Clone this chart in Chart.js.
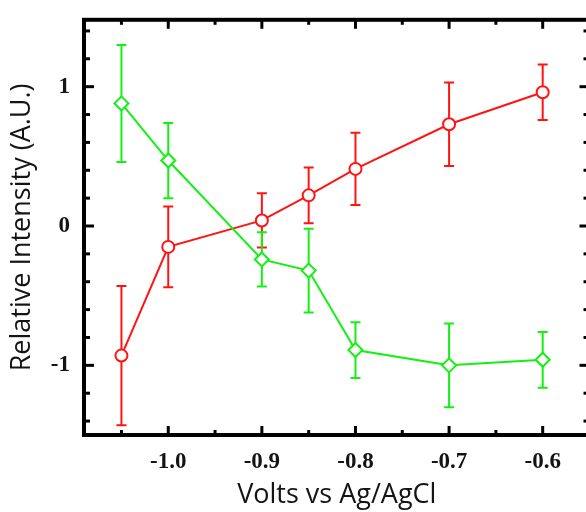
<!DOCTYPE html>
<html>
<head>
<meta charset="utf-8">
<script src="https://cdn.jsdelivr.net/npm/chart.js@4.4.1/dist/chart.umd.min.js"></script>
<style>
  html, body { margin: 0; padding: 0; background: #fff; overflow: hidden; }
  #wrap { width: 586px; height: 512px; overflow: hidden; }
</style>
</head>
<body>
<div id="wrap"><canvas id="chart" width="600" height="512"></canvas></div>
<script>
// data
const volts = [-1.05, -1.0, -0.9, -0.85, -0.8, -0.7, -0.6];
const redValues = [-0.93, -0.15, 0.04, 0.22, 0.41, 0.73, 0.96];
const redErrors = [0.50, 0.29, 0.195, 0.20, 0.26, 0.30, 0.20];
const greenValues = [0.88, 0.47, -0.24, -0.32, -0.89, -1.0, -0.96];
const greenErrors = [0.42, 0.27, 0.195, 0.30, 0.20, 0.30, 0.20];

// axes
const xLabels = [-1.0, -0.9, -0.8, -0.7, -0.6];
const xMinor = [-1.05, -0.95, -0.85, -0.75, -0.65];
const yLabels = [-1, 0, 1];
const yMinor = [-1.4, -1.2, -0.8, -0.6, -0.4, -0.2, 0.2, 0.4, 0.6, 0.8, 1.2, 1.4];
const xRange = [-1.09, -0.55];
const yRange = [-1.5, 1.48];

const RED = 'rgb(255, 20, 20)';
const GREEN = 'rgb(20, 240, 20)';
const TEXT = '#141414';

function toPoints(vals) {
    return volts.map((v, i) => ({ x: v, y: vals[i] }));
}

// vertical error bars with caps, drawn under the markers
const errorBars = {
    id: 'errorBars',
    beforeDatasetsDraw(chart) {
        const { ctx, scales: { x, y } } = chart;
        ctx.save();
        ctx.lineWidth = 2;
        chart.data.datasets.slice().reverse().forEach(ds => {
            ctx.strokeStyle = ds.borderColor;
            ds.data.forEach((p, i) => {
                const e = ds.errors[i];
                const px = x.getPixelForValue(p.x);
                const top = y.getPixelForValue(p.y + e);
                const bot = y.getPixelForValue(p.y - e);
                ctx.beginPath();
                ctx.moveTo(px, top); ctx.lineTo(px, bot);
                ctx.moveTo(px - 5, top); ctx.lineTo(px + 5, top);
                ctx.moveTo(px - 5, bot); ctx.lineTo(px + 5, bot);
                ctx.stroke();
            });
        });
        ctx.restore();
    }
};

// thick box with inward ticks on all four sides
const frame = {
    id: 'frame',
    afterDraw(chart) {
        const { ctx, chartArea: a, scales: { x, y } } = chart;
        ctx.save();
        ctx.strokeStyle = '#000';
        ctx.lineWidth = 3;
        const tick = (x0, y0, x1, y1) => { ctx.beginPath(); ctx.moveTo(x0, y0); ctx.lineTo(x1, y1); ctx.stroke(); };
        xLabels.concat(xMinor).forEach(v => {
            const len = xLabels.includes(v) ? 9 : 5;
            const px = x.getPixelForValue(v);
            tick(px, a.bottom, px, a.bottom - len);
            tick(px, a.top, px, a.top + len);
        });
        yLabels.concat(yMinor).forEach(v => {
            const len = yLabels.includes(v) ? 10 : 6;
            const py = y.getPixelForValue(v);
            tick(a.left, py, a.left + len, py);
            tick(a.right, py, a.right - len, py);
        });
        ctx.lineWidth = 4;
        ctx.lineJoin = 'miter';
        ctx.strokeRect(a.left, a.top, a.right - a.left, a.bottom - a.top);
        ctx.restore();
    }
};

const tickFont = { family: "'Liberation Serif', serif", size: 23, weight: 'bold' };
const titleFont = { family: "'Open Sans', sans-serif", size: 27 };

new Chart(document.getElementById('chart'), {
    type: 'line',
    data: {
        datasets: [
            {
                label: 'green',
                data: toPoints(greenValues),
                errors: greenErrors,
                borderColor: GREEN,
                backgroundColor: '#fff',
                borderWidth: 2,
                pointStyle: 'rectRot',
                pointRadius: 7,
                pointBorderWidth: 2,
                pointBackgroundColor: '#fff',
                order: 0
            },
            {
                label: 'red',
                data: toPoints(redValues),
                errors: redErrors,
                borderColor: RED,
                backgroundColor: '#fff',
                borderWidth: 2,
                pointStyle: 'circle',
                pointRadius: 6,
                pointBorderWidth: 2,
                pointBackgroundColor: '#fff',
                order: 1
            }
        ]
    },
    options: {
        responsive: false,
        animation: false,
        layout: { padding: { top: 13, right: 10.5, left: 0, bottom: 0 } },
        plugins: { legend: { display: false }, tooltip: { enabled: false } },
        scales: {
            x: {
                type: 'linear',
                min: xRange[0],
                max: xRange[1],
                afterBuildTicks: s => { s.ticks = xLabels.map(v => ({ value: v })); },
                afterFit: s => { s.height = 77; },
                grid: { display: false },
                border: { display: false },
                ticks: {
                    callback: v => v.toFixed(1),
                    font: tickFont,
                    color: TEXT,
                    padding: 5,
                    maxRotation: 0,
                    autoSkip: false
                },
                title: {
                    display: true,
                    text: 'Volts vs Ag/AgCl',
                    font: titleFont,
                    color: TEXT,
                    padding: { top: 0, bottom: 0 }
                }
            },
            y: {
                type: 'linear',
                min: yRange[0],
                max: yRange[1],
                afterBuildTicks: s => { s.ticks = yLabels.map(v => ({ value: v })); },
                afterFit: s => { s.width = 84; },
                grid: { display: false },
                border: { display: false },
                ticks: {
                    callback: v => String(v),
                    font: tickFont,
                    color: TEXT,
                    padding: 6
                },
                title: {
                    display: true,
                    text: 'Relative Intensity (A.U.)',
                    font: titleFont,
                    color: TEXT,
                    padding: { top: 6, bottom: 0 }
                }
            }
        }
    },
    plugins: [errorBars, frame]
});
</script>
</body>
</html>
